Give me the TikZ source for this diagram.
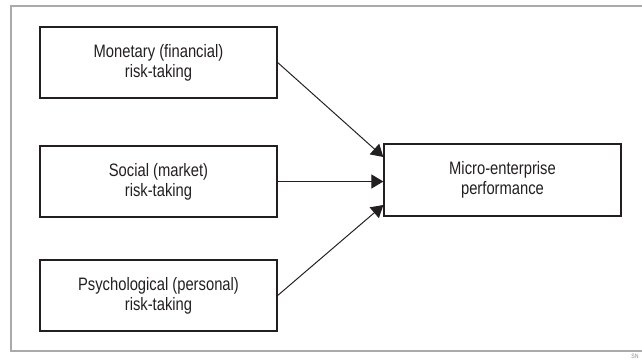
\documentclass[tikz,border=0pt]{standalone}
\usepackage{fontspec}
\setmainfont[FakeStretch=0.82]{Liberation Sans}
\usetikzlibrary{arrows.meta}
\definecolor{ink}{RGB}{35,31,32}
\definecolor{framegray}{RGB}{170,170,172}

\begin{document}
\begin{tikzpicture}[x=0.025cm,y=-0.025cm,
    riskbox/.style={draw=ink,line width=0.9pt,minimum width=5.925cm,minimum height=1.775cm,
      align=center,text=ink,font=\fontsize{12.8}{14.4}\selectfont},
    link/.style={draw=ink,line width=0.7pt,-{Triangle[length=8.5pt,width=10pt]}}]
  \useasboundingbox (0,0) rectangle (642,361);
  \begin{scope}
    \clip (0,0) rectangle (642,361);
    \draw[framegray,line width=1.6pt] (11,6) rectangle (660,351);
  \end{scope}
  \node[riskbox] (mon) at (158.5,62.5) {Monetary (financial)\\risk-taking};
  \node[riskbox] (soc) at (158.5,181.5) {Social (market)\\risk-taking};
  \node[riskbox] (psy) at (158.5,295.5) {Psychological (personal)\\risk-taking};
  \node[riskbox,minimum height=1.8cm] (perf) at (502.5,180) {Micro-enterprise\\performance};
  \draw[link] (mon.east) -- ([yshift=0.575cm]perf.west);
  \draw[link] (soc.east) -- (soc.east -| perf.west);
  \draw[link] (psy.east) -- ([yshift=-0.625cm]perf.west);
  \node[anchor=north west,inner sep=0pt,text=framegray!80!black,font=\fontsize{4.5}{4.5}\selectfont] (sn) at (631,354) {SN};
\end{tikzpicture}
\end{document}
